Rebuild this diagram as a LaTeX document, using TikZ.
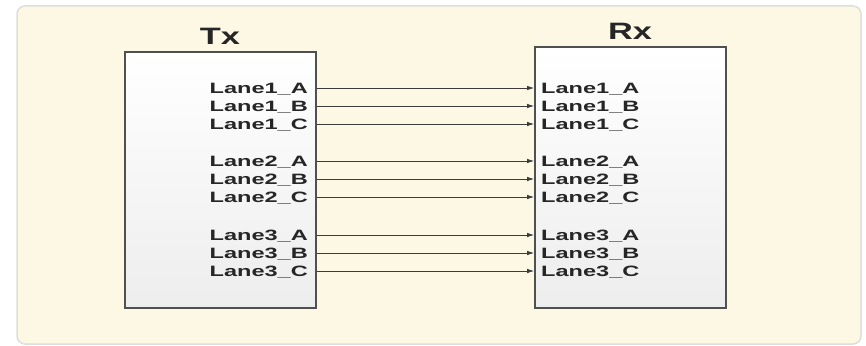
\documentclass[tikz,border=0pt]{standalone}
\usepackage{fontspec}
\setmainfont{Liberation Sans}
\newfontfamily\lanefont{Liberation Sans}[FakeStretch=1.57]
\newfontfamily\titlefont{Liberation Sans}[FakeStretch=1.45]
\usetikzlibrary{arrows.meta,shadows}
\definecolor{panelfill}{HTML}{FDF8E3}
\definecolor{panelline}{HTML}{DEDEDA}
\definecolor{boxline}{HTML}{505050}
\definecolor{wire}{HTML}{3C3C3C}
\tikzset{
  panel/.style={draw=panelline, line width=1.5pt, fill=panelfill, rounded corners=8pt},
  block/.style={draw=boxline, line width=1.8pt, top color=white, bottom color=black!7,
    inner sep=0pt, drop shadow={opacity=0.25, shadow xshift=1.2pt, shadow yshift=-1.2pt}},
  title/.style={font=\titlefont\bfseries\fontsize{23.7}{24}\selectfont, inner sep=0pt,
    text height=17pt, text depth=0pt, text=black!85},
  lane/.style={font=\lanefont\bfseries\fontsize{15}{15}\selectfont, inner sep=0pt,
    text height=10.7pt, text depth=0pt, text=black!85},
  wirearrow/.style={draw=wire, line width=0.8pt, -{Latex[length=7pt,width=4.5pt]}}
}
\begin{document}
\begin{tikzpicture}[x=1pt,y=-1pt]
\useasboundingbox (0,0) rectangle (866,345);
\draw[panel] (17,6) rectangle (861,344);

% transmitter and receiver blocks
\node[block, minimum width=191pt, minimum height=256pt] (tx) at (220.5,180) {};
\node[block, minimum width=191pt, minimum height=261pt] (rx) at (630.5,177.5) {};
\node[title] (txt) at (220,36.5) {Tx};
\node[title] (rxt) at (630,31.5) {Rx};

% lane ports, three lanes with three signals each
\foreach \l/\ya in {1/88, 2/161, 3/235} {
  \foreach \s/\dy in {A/0, B/18, C/36} {
    \node[lane, anchor=east] (t\l\s) at (308,\ya+\dy) {Lane\l\_\s};
    \node[lane, anchor=west] (r\l\s) at (541,\ya+\dy) {Lane\l\_\s};
    \draw[wirearrow] (t\l\s -| tx.east) -- (r\l\s -| rx.west);
  }
}
\end{tikzpicture}
\end{document}
